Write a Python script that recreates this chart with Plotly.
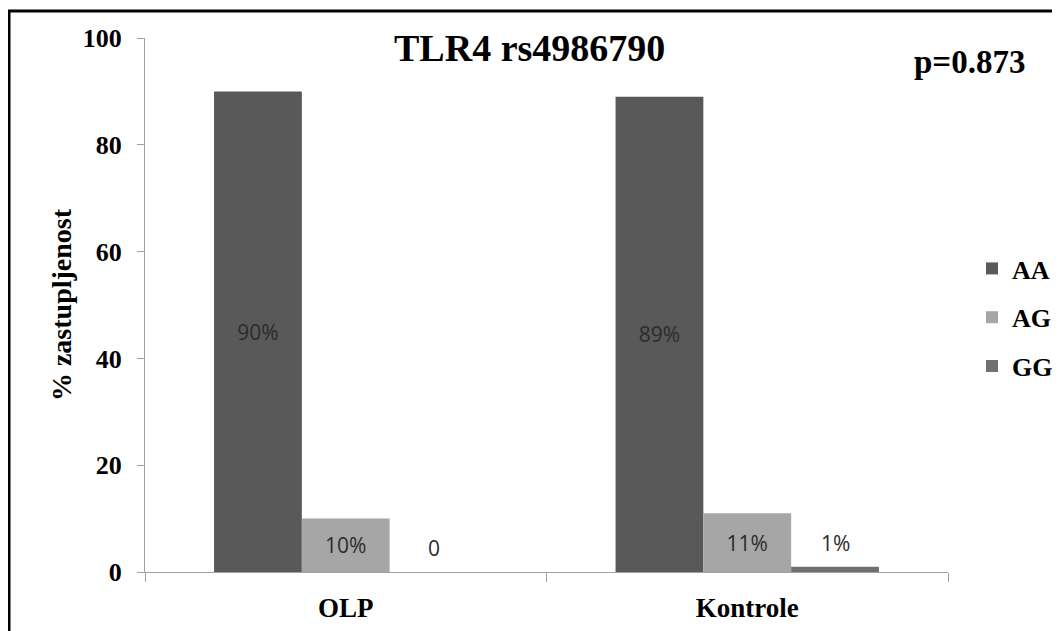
import plotly.graph_objects as go

categories = ["OLP", "Kontrole"]
aa_values = [90, 89]
ag_values = [10, 11]
gg_values = [0, 1]
aa_labels = ["90%", "89%"]
ag_labels = ["10%", "11%"]
gg_labels = ["0", "1%"]

colors = {"AA": "#595959", "AG": "#a6a6a6", "GG": "#707070"}
serif = "Liberation Serif, Times New Roman, serif"
label_font = dict(family="Open Sans, sans-serif", size=21, color="#2b2b2b")

# page has an 8px body margin, so the figure sits at (8, 8) in the window
W, H = 1052, 623
L, R, T, B = 137, 112, 30, 59
PW, PH = W - L - R, H - T - B


def px(x):  # window pixel -> paper x
    return (x - 8 - L) / PW


def py(y):  # window pixel -> paper y
    return (H - B - (y - 8)) / PH


fig = go.Figure()
fig.add_trace(go.Bar(x=categories, y=aa_values, name="<b>AA</b>", text=aa_labels,
                     textposition="inside", insidetextanchor="middle",
                     textfont=label_font, marker=dict(color=colors["AA"], line=dict(width=0)),
                     legendgroup="AA"))
fig.add_trace(go.Bar(x=categories, y=ag_values, name="<b>AG</b>", text=ag_labels,
                     textposition="inside", insidetextanchor="middle",
                     textfont=label_font, marker=dict(color=colors["AG"], line=dict(width=0)),
                     legendgroup="AG"))
fig.add_trace(go.Bar(x=categories, y=gg_values, name="<b>GG</b>",
                     marker=dict(color=colors["GG"], line=dict(width=0)), legendgroup="GG"))

bargap = 0.344
bar_w = (1 - bargap) / 3
# GG labels sit above their (tiny) bars
for i, (v, t) in enumerate(zip(gg_values, gg_labels)):
    fig.add_annotation(x=i + bar_w, y=v, xref="x", yref="y", text=t,
                       showarrow=False, yanchor="bottom", yshift=8,
                       font=label_font)

fig.add_annotation(x=px(529), y=py(48), xref="paper", yref="paper",
                   xanchor="center", yanchor="middle",
                   text="<b>TLR4 rs4986790</b>", showarrow=False,
                   font=dict(family=serif, size=38, color="black"))
fig.add_annotation(x=px(969), y=py(62), xref="paper", yref="paper",
                   xanchor="center", yanchor="middle",
                   text="<b>p=0.873</b>", showarrow=False,
                   font=dict(family=serif, size=33, color="black"))

# outer frame
fig.add_shape(type="rect", xref="paper", yref="paper",
              x0=px(9), x1=1.3, y0=-0.3, y1=py(11),
              line=dict(color="black", width=3), layer="below")

fig.update_layout(
    width=W, height=H,
    margin=dict(l=L, r=R, t=T, b=B, autoexpand=False),
    paper_bgcolor="white", plot_bgcolor="white",
    barmode="group", bargap=bargap, bargroupgap=0,
    font=dict(family=serif, color="black"),
    showlegend=True,
    legend=dict(x=px(972), y=py(245), xanchor="left", yanchor="top",
                font=dict(family=serif, size=26, color="black"),
                tracegroupgap=12, itemwidth=30, traceorder="grouped",
                bgcolor="rgba(0,0,0,0)"),
    xaxis=dict(showline=True, linecolor="#a0a0a0", linewidth=1,
               ticks="outside", tickson="boundaries", ticklen=9, tickcolor="#a0a0a0",
               ticklabelstandoff=12,
               tickfont=dict(family=serif, size=27, color="black"),
               tickprefix="<b>", ticksuffix="</b>"),
    yaxis=dict(range=[0, 100], dtick=20, showgrid=False, zeroline=False,
               showline=True, linecolor="#a0a0a0", linewidth=1,
               ticks="outside", ticklen=7, tickcolor="#a0a0a0",
               ticklabelstandoff=10,
               tickfont=dict(family=serif, size=26, color="black"),
               tickprefix="<b>", ticksuffix="</b>",
               title=dict(text="<b>% zastupljenost</b>", standoff=2,
                          font=dict(family=serif, size=28, color="black"))),
)

fig.write_html("out.html")
